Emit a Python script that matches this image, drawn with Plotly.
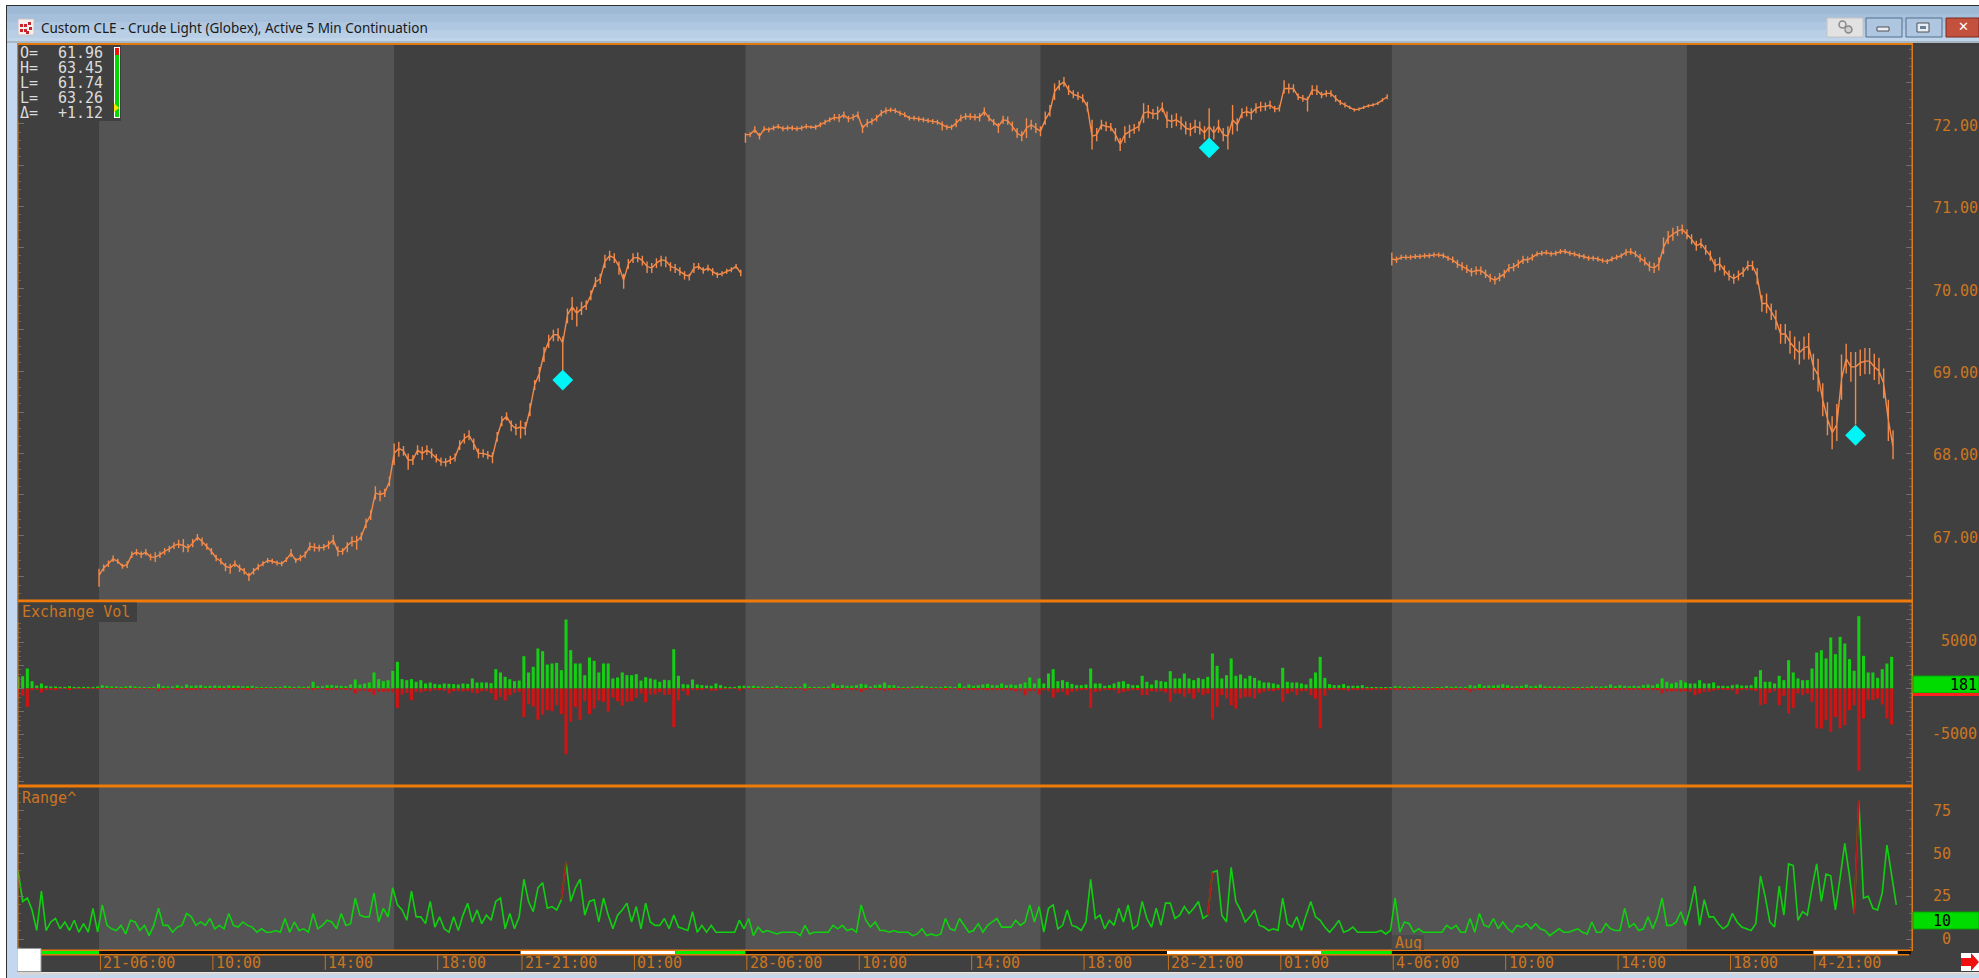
import plotly.graph_objects as go

W, H = 1979, 978

# ---------- session layout (5 minute bars counted from the first 06:00 open) ----------
x_left_bar, x_right_bar = -34.6, 774.1
band_edges_light = [(0, 126), (276, 402), (552, 678)]
time_tick_bars = [0, 48, 96, 144, 180, 228, 276, 324, 372, 420, 456, 504, 552, 600, 648, 696, 732]
time_tick_text = ["21-06:00", "10:00", "14:00", "18:00", "21-21:00", "01:00",
                  "28-06:00", "10:00", "14:00", "18:00", "28-21:00", "01:00",
                  "4-06:00", "10:00", "14:00", "18:00", "4-21:00"]

# ---------- price (close, then cents up / down to the bar high / low), one entry per 2 bars ----------
wk1_close = [66.52,66.61,66.66,66.72,66.69,66.63,66.65,66.77,66.80,66.77,66.80,66.74,66.74,66.77,66.81,66.84,66.88,66.90,66.88,66.85,
 66.91,66.98,66.93,66.87,66.81,66.73,66.69,66.63,66.61,66.66,66.61,66.57,66.51,66.57,66.62,66.66,66.70,66.69,66.67,66.66,
 66.71,66.79,66.70,66.73,66.77,66.87,66.86,66.85,66.86,66.89,66.95,66.81,66.81,66.88,66.93,66.93,66.99,67.15,67.25,67.52,
 67.50,67.52,67.66,68.00,68.06,68.03,67.92,67.92,68.04,68.00,68.04,68.00,67.94,67.90,67.89,67.92,67.95,68.10,68.18,68.22,
 68.12,68.00,68.00,67.98,67.96,68.20,68.39,68.45,68.35,68.30,68.32,68.30,68.53,68.83,68.97,69.21,69.36,69.44,69.44,69.34,
 69.68,69.78,69.70,69.76,69.80,69.92,70.08,70.12,70.33,70.40,70.37,70.27,70.10,70.30,70.37,70.38,70.34,70.27,70.25,70.31,
 70.35,70.34,70.27,70.25,70.21,70.17,70.15,70.25,70.27,70.22,70.25,70.21,70.17,70.18,70.21,70.23,70.27,70.19]
wk1_up = [8,4,4,4,3,3,4,4,4,4,4,4,6,4,4,4,4,5,8,5, 5,4,5,4,4,4,4,4,5,4,4,4,4,4,4,3,3,3,3,3,
 3,5,3,4,4,5,5,4,4,5,6,6,4,4,6,7,5,6,6,8, 5,5,6,12,8,6,8,6,6,8,6,6,5,5,5,5,5,6,6,6,
 6,6,5,5,5,6,6,5,5,6,8,8,8,6,8,8,8,6,8,8, 8,12,8,8,6,6,6,6,8,6,6,6,8,6,6,6,6,6,6,6,
 5,5,5,5,5,4,3,6,4,4,4,4,3,3,3,3,3,4]
wk1_dn = [14,4,4,4,3,3,4,4,4,4,4,4,6,4,4,4,4,5,8,5, 5,4,5,4,4,4,4,6,7,4,5,4,6,4,4,3,3,3,3,3,
 3,5,3,4,4,5,5,4,4,5,6,6,4,8,6,10,5,6,6,8, 8,5,6,14,10,6,12,6,6,8,6,6,5,5,5,5,5,6,6,6,
 8,6,5,5,8,6,6,5,8,8,14,8,8,6,10,10,8,8,8,33, 10,16,16,8,6,6,6,6,8,6,6,10,10,6,6,6,6,8,6,6,
 8,8,6,6,5,6,5,6,4,4,4,5,4,3,3,3,3,4]

wk2_close = [71.87,71.87,71.93,71.85,71.94,71.93,71.95,71.97,71.94,71.95,71.95,71.94,71.95,71.97,71.96,71.96,71.99,72.02,72.05,72.08,
 72.07,72.11,72.06,72.08,72.11,71.95,72.01,72.03,72.07,72.13,72.16,72.17,72.16,72.13,72.11,72.07,72.07,72.06,72.05,72.04,
 72.03,72.02,71.99,71.96,71.96,72.01,72.07,72.09,72.09,72.08,72.08,72.15,72.07,72.02,71.97,72.05,72.04,71.97,71.89,71.85,
 71.95,71.99,71.95,71.91,72.05,72.15,72.39,72.47,72.51,72.41,72.36,72.34,72.31,72.21,71.85,71.87,71.99,71.97,71.96,71.87,
 71.75,71.87,71.91,71.94,71.97,72.13,72.15,72.12,72.13,72.20,72.05,72.03,72.05,72.01,71.95,71.93,71.97,71.95,71.89,71.97,
 71.89,71.97,71.87,71.85,72.05,71.99,72.13,72.15,72.13,72.19,72.21,72.21,72.23,72.18,72.19,72.43,72.43,72.43,72.33,72.31,
 72.29,72.41,72.41,72.35,72.37,72.37,72.31,72.26,72.23,72.20,72.17,72.18,72.20,72.22,72.23,72.25,72.29,72.33]
wk2_up = [2,3,4,4,3,3,3,3,3,3, 3,3,3,3,2,3,3,3,3,4, 5,4,4,4,4,4,5,4,4,4, 4,3,3,3,3,3,3,3,3,3,
 3,3,4,3,3,5,4,4,4,4, 5,5,4,4,4,5,5,6,6,6, 12,6,6,6,10,8,10,6,6,6, 5,5,5,6,20,8,6,6,5,8,
 8,10,8,6,6,12,8,6,8,6, 10,8,8,8,8,8,8,8,8,22, 8,8,8,12,18,8,6,6,6,6, 6,5,5,4,4,10,6,5,4,4,
 4,6,6,4,4,4,4,3,3,2, 2,2,2,2,2,2,2,3]
wk2_dn = [10,3,4,4,3,3,3,3,3,3, 3,3,3,3,2,3,3,3,3,4, 5,4,4,4,4,6,5,4,4,4, 4,3,3,3,3,3,3,3,3,3,
 3,3,7,3,3,5,4,4,4,4, 5,5,4,4,8,5,5,6,6,6, 12,6,6,6,6,6,10,6,6,6, 5,5,5,6,16,8,6,6,5,8,
 8,10,8,6,6,12,8,6,8,6, 10,8,8,8,8,8,8,8,8,18, 8,8,8,16,18,8,6,6,8,6, 6,5,5,4,4,6,6,5,4,4,
 14,6,6,4,4,4,4,3,3,2, 2,2,2,2,2,2,2,3]

wk3_close = [70.36,70.35,70.38,70.38,70.38,70.39,70.39,70.40,70.40,70.41,70.41,70.40,70.37,70.35,70.30,70.27,70.24,70.20,70.22,70.22,
 70.18,70.13,70.10,70.14,70.18,70.25,70.26,70.30,70.35,70.35,70.38,70.42,70.43,70.44,70.42,70.43,70.45,70.45,70.43,70.42,
 70.40,70.39,70.37,70.37,70.36,70.34,70.33,70.36,70.38,70.40,70.44,70.45,70.42,70.37,70.33,70.27,70.25,70.30,70.50,70.62,
 70.66,70.70,70.72,70.66,70.60,70.52,70.55,70.47,70.40,70.28,70.30,70.22,70.16,70.12,70.16,70.20,70.28,70.28,70.15,69.82,
 69.82,69.72,69.62,69.45,69.45,69.35,69.28,69.22,69.28,69.30,69.05,68.95,68.65,68.42,68.25,68.35,68.90,69.15,69.05,69.05,
 69.10,69.12,69.12,69.05,69.00,68.85,68.40,68.08]
wk3_up = [8,4,3,3,3,3,3,3,3,3, 3,3,3,4,5,5,5,5,5,5, 5,5,5,5,5,5,5,5,5,4, 4,3,3,3,3,3,3,3,3,3,
 3,3,3,3,3,3,3,3,3,3, 4,4,4,5,5,6,6,8,12,8, 8,6,6,6,6,6,6,6,6,8, 8,6,6,6,6,6,6,6,10,10,
 12,10,12,12,12,14,14,14,14,16, 16,20,20,20,20,25,30,18,18,18, 16,16,16,16,16,18,25,20]
wk3_dn = [8,4,3,3,3,3,3,3,3,3, 3,3,3,4,5,5,5,5,5,5, 5,5,5,5,5,5,5,5,5,4, 4,3,3,3,3,3,3,3,3,3,
 3,3,3,3,3,3,3,3,3,3, 4,4,4,5,5,6,6,8,8,8, 8,6,6,6,6,6,6,6,6,8, 8,6,6,6,6,6,6,6,10,10,
 12,10,12,12,12,14,14,14,14,16, 16,20,20,20,20,20,25,18,18,70, 16,16,16,16,16,18,25,15]

signal_bars = [198, 474, 750]
signal_price = [68.89, 71.71, 68.22]
price_axis_labels = [72, 71, 70, 69, 68, 67]

# ---------- exchange volume, one entry per 2 bars ----------
vol_up = [1260,1330,2160,790,320,540,290,220,220,180, 180,250,180,180,180,180,180,220,360,290,
 220,220,180,220,290,220,180,180,180,180, 500,250,220,220,360,220,430,290,320,360,
 250,290,320,290,250,320,290,290,250,250, 290,180,180,180,180,180,180,290,220,180,
 220,180,220,720,250,250,360,360,320,290, 250,430,970,430,540,650,1730,1010,790,900,
 1910,2880,1010,900,1010,720,900,540,650,500, 430,540,500,470,430,540,500,1080,650,650, 650,580,2090,
 1730,1260,1000,790,860,3490,1730,2340,4320,4030,2590,2700,2770,1980,7450,4140,2700,2700,1440,3350,
 2990,1730,2700,2700,1080,1190,1730,1440,1440,1550,860,1220,1080,970,720,940,900,4250,1370,470,
 430,970,430,360,320,290,540,360,200,180,180,290,290,250,290,220,220,180,180,290,
 180,180,180,180,180,540,180,180,180,180,220,540,320,360,290,290,360,500,430,220,
 360,430,650,360,360,220,180,180,220,220,290,220,180,180,180,250,220,180,540,220,430,
 290,360,430,500,360,360,540,360,430,360,500,650,1190,540,1080,540,1620,2090,790,900,
 720,500,360,360,430,2160,540,540,290,360,540,720,790,500,360,360,1370,720,430,900,
 790,720,1870,1080,1080,1620,1080,900,1150,1010,1260,3780,2450,1080,1440,3240,1370,1510,1080,1370,
 1150,860,650,650,540,430,2230,720,650,650,540,430,1080,1730,3420,1150,470,360,360,470,
 290,290,290,360,180,140,140,140,140,140,250,220,180,180,220,180,180,180,140,140,
 180,250,180,220,180,180,360,290,470,290,320,320,360,470,360,250,250,290,430,250,
 290,430,250,220,220,250,180,180,180,180,180,180,250,220,220,250,430,250,360,290,
 250,290,250,360,430,320,500,1080,720,540,650,900,650,540,540,900,540,540,650,290,
 290,250,360,430,320,320,360,1260,1980,720,720,540,1370,900,3060,1730,1080,900,900,2160,
 3890,4140,3240,5510,3710,5580,4860,3170,1910,7810,3530,1730,1730,1150,2090,2700,3420]
vol_dn = [1080,790,1980,180,110,430,110,70,180,40, 40,70,40,40,40,40,40,40,40,40,
 40,40,40,40,40,40,40,40,40,40, 290,70,40,40,70,40,180,110,70,70,
 40,70,110,70,70,110,110,70,70,70, 70,40,40,40,40,40,40,40,40,40,
 40,40,40,180,40,40,70,70,180,40, 70,110,540,250,250,360,700,360,360,320,
 430,2090,650,500,1260,360,430,250,320,180, 180,250,540,290,290,320,250,430,540,290, 290,500,1260,
 900,1300,720,500,360,3090,1700,1940,3380,2840,2340,2450,1800,2770,7100,3600,2000,3380,1370,2770,
 2160,1300,1440,2480,1000,1370,1870,1440,1370,1000,540,1480,650,650,400,720,650,4180,1300,290,
 760,180,110,70,40,250,250,70,40,40,40,220,40,40,40,40,40,40,40,40,
 40,40,40,40,40,250,40,40,40,40,40,180,70,70,40,70,110,360,110,40,
 40,70,290,70,70,180,40,40,40,40,40,40,40,40,40,180,40,40,180,40,180,
 110,110,110,180,180,180,110,110,180,290,290,720,290,290,650,180,290,970,430,360,
 720,360,290,180,180,2090,360,290,140,140,180,540,360,290,180,140,720,720,290,360,
 290,430,1440,540,540,900,540,1080,430,720,540,3350,1980,720,1080,1800,2160,1080,900,900,
 1080,540,360,290,290,180,1440,540,360,720,290,290,720,1080,4320,790,110,110,110,110,
 290,110,110,110,110,110,110,110,110,110,110,110,110,110,110,110,110,110,110,110,
 70,70,70,70,70,70,360,220,140,70,70,140,70,180,140,70,70,70,70,70,
 70,70,70,70,70,70,70,70,70,70,70,70,70,70,70,70,140,70,110,70,
 70,70,70,140,180,180,180,540,360,290,290,360,290,360,720,540,360,360,220,110,
 70,70,220,610,70,180,70,290,1800,1690,470,290,1800,790,2700,2090,540,720,540,1440,
 4320,4320,3420,4680,3060,4320,3960,2340,1800,8890,3240,1260,1260,1080,1730,3240,3890]
vol_axis_labels = [5000, -5000]
vol_last = 181

# ---------- range, one entry per 2 bars ----------
range_vals = [40,22,24,17,5,28,5,10,12,6, 10,5,11,4,9,4,18,4,20,8, 6,5,8,3,11,10,5,8,2,8,
 18,8,8,4,7,8,15,13,8,10, 8,12,6,8,6,15,8,7,10,8, 7,4,6,4,4,5,4,12,4,10,
 5,6,4,15,6,8,11,10,6,15, 8,9,24,14,13,13,27,10,18,13, 30,20,17,11,28,13,13,9,22,7,
 13,6,4,13,5,14,21,10,17,9, 14,11,22,
 24,6,15,6,13,35,22,16,30,33,18,19,17,23,45,22,30,35,14,22,
 23,10,24,14,6,14,17,21,10,19,6,21,10,8,8,12,6,14,7,6,
 5,16,4,8,4,8,4,4,4,4,4,11,6,12,2,7,4,5,4,3,
 4,4,4,4,2,8,3,4,4,4,4,8,6,8,5,6,4,20,11,7,
 10,5,5,4,5,4,4,4,2,3,6,2,3,2,3,12,6,5,12,8,4,
 5,9,4,8,10,12,7,7,7,11,8,10,20,10,19,4,18,20,6,8,
 17,8,7,5,10,35,12,14,6,11,8,18,10,20,6,8,22,12,7,18,
 8,21,21,12,14,19,15,18,22,12,14,39,40,14,10,42,22,17,10,13,
 17,8,7,5,6,5,24,9,7,13,5,14,22,13,11,7,4,7,11,4,
 5,7,4,4,4,4,4,5,3,5,24,4,10,9,4,6,4,4,4,4,
 4,8,6,8,4,4,12,4,15,8,7,12,6,10,6,4,8,7,9,6,
 9,6,5,2,4,6,4,4,5,6,4,3,10,4,4,9,6,5,5,18,
 7,9,5,6,13,6,13,24,8,8,10,16,8,18,31,8,23,13,13,9,
 6,8,15,10,7,6,5,9,37,25,10,7,31,14,44,43,11,16,14,30,
 44,22,38,37,17,36,56,37,15,81,24,25,18,17,27,55,37,20]
range_red_idx = [117, 255, 393]
range_axis_labels = [75, 50, 25, 0]
range_last = 10

# ---------- read-out box ----------
ohlc_rows = [("O=", "61.96"), ("H=", "63.45"), ("L=", "61.74"), ("L=", "63.26"), ("\u0394=", "+1.12")]
title_text = "Custom CLE - Crude Light (Globex), Active 5 Min Continuation"

# ---------- style ----------
DARK, LIGHT = "#404040", "#545454"
ORANGE, TXT = "#f07a08", "#cc7620"
MONO = "DejaVu Sans Mono"


def fx(p):
    return p / W


def fy(p):
    return 1 - p / H


def sample_bar(i):
    return x_left_bar + 2 * i


def price_path(close, up, dn, start):
    xs, ys = [], []
    for k, (c, u, d) in enumerate(zip(close, up, dn)):
        b = start + 2 * k
        xs += [b, b, b]
        ys += [c, c + u / 100, c - d / 100]
        xs += [b]
        ys += [c]
    return xs + [None], ys + [None]


fig = go.Figure()

px1, py1 = price_path(wk1_close, wk1_up, wk1_dn, 0)
px2, py2 = price_path(wk2_close, wk2_up, wk2_dn, 276)
px3, py3 = price_path(wk3_close, wk3_up, wk3_dn, 552)
fig.add_trace(go.Scatter(x=px1 + px2 + px3, y=py1 + py2 + py3, mode="lines",
                         line=dict(color="#f48a4a", width=1.4), xaxis="x", yaxis="y"))
fig.add_trace(go.Scatter(x=signal_bars, y=signal_price, mode="markers",
                         marker=dict(symbol="diamond", size=16, color="#00f6f6"), xaxis="x", yaxis="y"))

vx = [sample_bar(i) for i in range(len(vol_up))]
fig.add_trace(go.Bar(x=vx, y=vol_up, width=1.3, marker=dict(color="#14cf14", line=dict(width=0)),
                     xaxis="x2", yaxis="y2"))
fig.add_trace(go.Bar(x=vx, y=[-v for v in vol_dn], width=1.3, marker=dict(color="#d01414", line=dict(width=0)),
                     xaxis="x2", yaxis="y2"))

rx = [sample_bar(i) for i in range(len(range_vals))]
fig.add_trace(go.Scatter(x=rx, y=range_vals, mode="lines", line=dict(color="#10d010", width=1.6),
                         xaxis="x3", yaxis="y3"))
for i in range_red_idx:
    fig.add_trace(go.Scatter(x=rx[i - 1:i + 1], y=range_vals[i - 1:i + 1], mode="lines",
                             line=dict(color="#b01818", width=1.8), xaxis="x3", yaxis="y3"))

shapes, ann = [], []


def rect(x0, y0, x1, y1, color, layer="above", line=None):
    shapes.append(dict(type="rect", xref="paper", yref="paper", x0=fx(x0), x1=fx(x1), y0=fy(y0), y1=fy(y1),
                       fillcolor=color, line=dict(width=line[1], color=line[0]) if line else dict(width=0),
                       layer=layer))


# session shading
for a, b in band_edges_light:
    shapes.append(dict(type="rect", xref="x3", yref="paper", x0=a, x1=b, y0=fy(951), y1=fy(44),
                       fillcolor=LIGHT, line=dict(width=0), layer="below"))

# panel frames
rect(17, 43, 1913, 45, "#e07a10")
rect(17, 599.5, 1913, 602.5, ORANGE)
rect(17, 784.5, 1913, 787.5, ORANGE)
rect(17, 949.5, 1911, 951, ORANGE)
rect(17, 43, 18.5, 951, "#e07a10")
rect(1911.5, 43, 1913, 951, "#e07a10")

# session strip under the panels
rect(41, 951, 1911, 954, "#101010")
rect(41, 951, 99, 954, "#00f000")
for off in (0, 276, 552):
    shapes.append(dict(type="rect", xref="x3", yref="paper", x0=180 + off, x1=min(246 + off, 768), y0=fy(954), y1=fy(951),
                       fillcolor="#ffffff", line=dict(width=0), layer="above"))
    if off < 552:
        shapes.append(dict(type="rect", xref="x3", yref="paper", x0=246 + off, x1=276 + off, y0=fy(954), y1=fy(951),
                           fillcolor="#00f000", line=dict(width=0), layer="above"))
rect(41, 954, 1909, 955.5, "#e07a10")
rect(17, 948.5, 41, 971.5, "#ffffff", line=("#9a9a9a", 1))

# time ticks and labels
for b, t in zip(time_tick_bars, time_tick_text):
    shapes.append(dict(type="line", xref="x3", yref="paper", x0=b + 0.6, x1=b + 0.6, y0=fy(955), y1=fy(970),
                       line=dict(color="#c8731e", width=1), layer="above"))
    ann.append(dict(x=b + 0.6, xref="x3", y=fy(963), yref="paper", text=t, showarrow=False, xanchor="left",
                    yanchor="middle", xshift=1, font=dict(family=MONO, size=15, color=TXT)))

# price labels on the right
for v in price_axis_labels:
    ann.append(dict(x=fx(1931), xref="paper", y=v, yref="y", text=f"{v:.2f}", showarrow=False, xanchor="left",
                    yanchor="middle", yshift=-2, font=dict(family=MONO, size=15, color=TXT)))
for v in vol_axis_labels:
    ann.append(dict(x=fx(1979), xref="paper", y=v, yref="y2", text=str(v), showarrow=False, xanchor="right",
                    yanchor="middle", yshift=1, font=dict(family=MONO, size=15, color=TXT)))
for v in range_axis_labels:
    ann.append(dict(x=fx(1953), xref="paper", y=v, yref="y3", text=str(v), showarrow=False, xanchor="right",
                    yanchor="middle", font=dict(family=MONO, size=15, color=TXT)))

# last value flags
rect(1913, 676, 1979, 693, "#00dc00", line=("#00a000", 1))
rect(1913, 693, 1979, 696, "#ff2020")
ann.append(dict(x=fx(1979), xref="paper", y=fy(685), yref="paper", text=str(vol_last), showarrow=False,
                xanchor="right", yanchor="middle", font=dict(family=MONO, size=15, color="#000000")))
rect(1913, 912, 1979, 929, "#00dc00", line=("#00a000", 1))
ann.append(dict(x=fx(1953), xref="paper", y=fy(920.5), yref="paper", text=str(range_last), showarrow=False,
                xanchor="right", yanchor="middle", font=dict(family=MONO, size=15, color="#000000")))

# study labels
rect(18.5, 602.5, 137, 622, DARK)
ann.append(dict(x=fx(20), xref="paper", y=fy(612), yref="paper", text="Exchange Vol", showarrow=False,
                xanchor="left", yanchor="middle", font=dict(family=MONO, size=15, color=TXT)))
ann.append(dict(x=fx(20), xref="paper", y=fy(798), yref="paper", text="Range^", showarrow=False,
                xanchor="left", yanchor="middle", font=dict(family=MONO, size=15, color=TXT)))
rect(1392, 935, 1424, 950, "#4a4a4a")
ann.append(dict(x=fx(1393), xref="paper", y=fy(943), yref="paper", text="Aug", showarrow=False,
                xanchor="left", yanchor="middle", font=dict(family=MONO, size=15, color=TXT)))

# read-out box
rect(18.5, 45, 121, 121, DARK)
for r, (lab, val) in enumerate(ohlc_rows):
    yy = fy(52.5 + 15.1 * r)
    ann.append(dict(x=fx(17.5), xref="paper", y=yy, yref="paper", text=lab, showarrow=False, xanchor="left",
                    yanchor="middle", font=dict(family=MONO, size=15, color="#dcdcdc")))
    ann.append(dict(x=fx(105), xref="paper", y=yy, yref="paper", text=val, showarrow=False, xanchor="right",
                    yanchor="middle", font=dict(family=MONO, size=15, color="#dcdcdc")))
rect(114, 47, 120, 118, "#ffffff")
rect(115, 48, 119, 55, "#f01010")
rect(115, 55, 119, 117, "#00d800")
shapes.append(dict(type="path", xref="paper", yref="paper",
                   path=f"M {fx(114)} {fy(103)} L {fx(119)} {fy(108)} L {fx(114)} {fy(112)} Z",
                   fillcolor="#ffe000", line=dict(width=0), layer="above"))

# window chrome
rect(0, 0, 1979, 5, "#ffffff")
rect(0, 5, 6, 978, "#ffffff")
rect(6, 5, 1979, 6, "#303030")
rect(6, 5, 7, 978, "#303030")
title_bands = [(6, 14, "#9db9d6"), (14, 22, "#a6c0db"), (22, 30, "#afc7e0"), (30, 38, "#b8cfe6"), (38, 43, "#c0d5ea")]
for y0, y1, c in title_bands:
    rect(7, y0, 1979, y1, c)
rect(7, 41, 1979, 43, "#a9b6c4")
rect(7, 43, 17, 978, "#c3d7ee")
rect(17, 972, 1979, 975, "#d6d6d6")
rect(7, 975, 1979, 978, "#c3d7ee")
rect(41, 972, 1979, 973, "#e8e8e8")

# window icon
rect(18, 19, 34, 35, "#f4f0f0", line=("#c9c0c0", 1))
for dx, dy in [(20, 24), (24, 24), (20, 29), (24, 29), (28, 22), (29, 27), (26, 31)]:
    rect(dx, dy, dx + 3, dy + 3, "#c8242c")
ann.append(dict(x=fx(38.5), xref="paper", y=fy(28), yref="paper", text=title_text, showarrow=False, xanchor="left",
                yanchor="middle", font=dict(family="Noto Sans", size=13.5, color="#1a1a1a")))

# window buttons
rect(1827, 18, 1863, 37, "#e2e2e2", line=("#c4c4c4", 1))
shapes.append(dict(type="circle", xref="paper", yref="paper", x0=fx(1839), x1=fx(1846), y0=fy(28), y1=fy(21),
                   line=dict(color="#8a8a8a", width=1.5), fillcolor="#e2e2e2", layer="above"))
shapes.append(dict(type="circle", xref="paper", yref="paper", x0=fx(1845), x1=fx(1852), y0=fy(33), y1=fy(26),
                   line=dict(color="#8a8a8a", width=1.5), fillcolor="#cfcfcf", layer="above"))
rect(1866, 18, 1902, 37, "#aec6df", line=("#54708f", 1))
rect(1877, 27, 1889, 31, "#e8eef5", line=("#505050", 1))
rect(1906, 18, 1942, 37, "#aec6df", line=("#54708f", 1))
rect(1917, 23, 1929, 32, "#e8eef5", line=("#505050", 1))
rect(1920, 26, 1926, 29, "#6a7f96")
rect(1946, 18, 1979, 37, "#c4503e", line=("#7a2a20", 1))
ann.append(dict(x=fx(1963), xref="paper", y=fy(27), yref="paper", text="\u2715", showarrow=False, xanchor="center",
                yanchor="middle", font=dict(family="DejaVu Sans", size=13, color="#ffffff")))

# scroll arrow
rect(1961, 953, 1979, 971, "#ffffff")
shapes.append(dict(type="path", xref="paper", yref="paper",
                   path=(f"M {fx(1961)} {fy(958)} L {fx(1971)} {fy(958)} L {fx(1971)} {fy(953)} L {fx(1979)} {fy(962)} "
                         f"L {fx(1971)} {fy(971)} L {fx(1971)} {fy(966)} L {fx(1961)} {fy(966)} Z"),
                   fillcolor="#f01010", line=dict(width=0), layer="above"))


def y_axis(rng, top, bottom, major, minor):
    return dict(domain=[fy(bottom), fy(top)], range=rng, side="right", showgrid=False, zeroline=False,
                showline=False, showticklabels=False, ticks="inside", ticklen=6, tickcolor="#6e6e6e", tickwidth=1,
                tick0=0, dtick=major, mirror="ticks",
                minor=dict(ticks="inside", ticklen=3, tickcolor="#626262", dtick=minor, tick0=0, showgrid=False))


def x_axis(anchor):
    return dict(domain=[fx(18), fx(1912)], range=[x_left_bar, x_right_bar], visible=False, anchor=anchor,
                showgrid=False, zeroline=False)


fig.update_layout(
    width=W, height=H, autosize=False, margin=dict(l=0, r=0, t=0, b=0), showlegend=False,
    paper_bgcolor=DARK, plot_bgcolor="rgba(0,0,0,0)", barmode="overlay", hovermode=False,
    xaxis=x_axis("y"), xaxis2=x_axis("y2"), xaxis3=x_axis("y3"),
    yaxis=y_axis([66.22, 72.97], 44, 600, 0.5, 0.1),
    yaxis2=y_axis([-10530, 9450], 601, 786, 2500, 500),
    yaxis3=y_axis([-7, 89], 787, 951, 25, 5),
    shapes=shapes, annotations=ann,
)
fig.write_html("out.html", config={"displayModeBar": False},
               post_script="document.body.style.margin='0';document.body.style.overflow='hidden';")
